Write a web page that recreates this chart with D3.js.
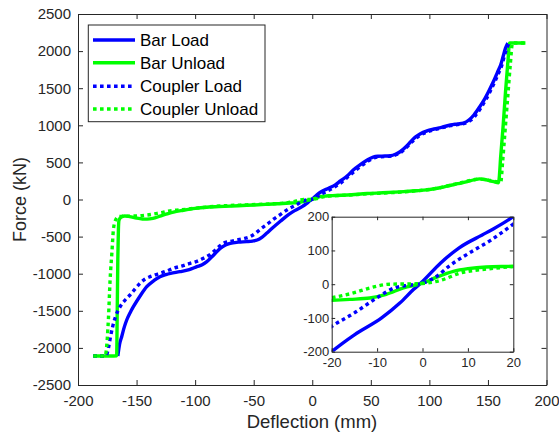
<!DOCTYPE html>
<html><head><meta charset="utf-8">
<script src="https://cdn.jsdelivr.net/npm/d3@7"></script>
<style>body{margin:0;background:#fff}svg{display:block;font-family:"Liberation Sans",Arial,Helvetica,sans-serif}</style>
</head><body><svg id="c" width="559" height="432"></svg>
<script>
const seriesNames = ["Bar Load", "Bar Unload", "Coupler Load", "Coupler Unload"];
const xTicks = [-200, -150, -100, -50, 0, 50, 100, 150, 200];
const yTicks = [-2500, -2000, -1500, -1000, -500, 0, 500, 1000, 1500, 2000, 2500];
const insetXTicks = [-20, -10, 0, 10, 20];
const insetYTicks = [-200, -100, 0, 100, 200];

const barLoadX = [-166,-164.5,-162.7,-160.5,-158.4,-155.5,-152.7,-147,-141.3,-135,-130,-125,-121,-113,-105,-98.5,-94,-90,-84,-78.6,-74,-70,-63,-56,-51,-47,-43,-39,-34,-27,-20,-15,-9,-5,-2,0,4,8,14,20,24,30,35,41,47,52,56,62,67,71,75,80,84,88,92,98,104,111,118,124,129,134,138,143,147,151,155,158,161,163,165,167];
const barLoadY = [-2110,-1950,-1849,-1720,-1624,-1525,-1445,-1300,-1175,-1090,-1040,-1012,-995,-973,-945,-905,-878,-838,-745,-658,-612,-590,-575,-568,-560,-546,-510,-456,-385,-290,-200,-150,-100,-56,-16,8,63,107,152,201,250,320,398,470,532,572,583,586,590,610,644,710,779,840,883,925,950,975,1004,1018,1030,1075,1139,1250,1350,1470,1600,1710,1820,1930,2040,2110];

const barUnloadX = [-187,-172,-167,-166.5,-166,-165.5,-165,-163,-160,-156,-150,-145,-141,-136,-130,-124,-118.5,-110,-100,-90,-75,-56,-40,-30,-20,-16,-11.6,-8,-4.2,0,3,6.8,10,14,20,30,47,60,75,88,98,108,115,122,128,133,138,143,147,151,155,159,161,163,165,167,168.5,182];
const barUnloadY = [-2110,-2110,-2105,-1500,-800,-400,-280,-235,-222,-230,-250,-262,-265,-255,-225,-195,-170,-145,-120,-104,-92,-78,-66,-58,-48,-45,-41,-30,-11,3,20,38,46,51,53,60,80,90,103,117,130,155,180,205,225,245,265,278,270,255,240,226,600,1000,1450,1850,2110,2110];

const couplerLoadX = [-187,-180,-176,-174,-172.6,-170.5,-168,-164,-160,-155.6,-151,-147,-143,-138.5,-134,-129.9,-124,-118.5,-111,-104.3,-98,-92.9,-88,-84.4,-80,-75.8,-70,-64.4,-58,-53,-48,-44.4,-39,-33,-27,-20,-15,-10,-6,-3,0,3,6,10,15,20,25,30,36,42,48,53,58,65,71,76,81,86,92,98,104,111,118,124,130,135,139,144,148,152,156,159,162,164,166,168];
const couplerLoadY = [-2110,-2110,-2105,-2000,-1880,-1720,-1580,-1445,-1360,-1287,-1200,-1129,-1075,-1040,-1015,-995,-962,-927,-895,-860,-830,-793,-750,-703,-640,-590,-565,-546,-525,-501,-450,-400,-340,-265,-200,-125,-85,-40,-10,-3,3,22,55,90,130,178,230,300,380,455,520,562,575,582,600,640,710,790,865,910,940,968,995,1010,1025,1065,1125,1235,1340,1460,1590,1700,1815,1930,2030,2110];

const couplerUnloadX = [-187,-177,-176,-174,-172.6,-171,-169.8,-168,-165.5,-160,-150,-141,-130,-120,-113,-100,-90,-75,-56,-40,-30,-20,-15,-11.6,-7.2,-2,0,3.9,8.3,14.2,20,30,47,60,75,88,98,108,115,122,128,133,138,142,146,150,154,158,161,162.5,164.5,167,169,171,182];
const couplerUnloadY = [-2110,-2110,-2050,-1600,-1085,-700,-411,-280,-232,-225,-222,-209,-180,-150,-141,-118,-102,-85,-72,-62,-55,-40,-25,-11,0,1,2,11,33,45,52,58,76,86,100,116,131,156,182,208,230,250,268,276,272,262,250,240,240,500,900,1400,1800,2110,2110];

const colors = {blue: "#0000ff", green: "#00ff00"};
const series = [
  {name: seriesNames[0], xs: barLoadX, ys: barLoadY, color: colors.blue, dotted: false},
  {name: seriesNames[1], xs: barUnloadX, ys: barUnloadY, color: colors.green, dotted: false},
  {name: seriesNames[2], xs: couplerLoadX, ys: couplerLoadY, color: colors.blue, dotted: true},
  {name: seriesNames[3], xs: couplerUnloadX, ys: couplerUnloadY, color: colors.green, dotted: true}
];
series.forEach(s => s.pts = s.xs.map((x, i) => [x, s.ys[i]]));

const svg = d3.select("#c");
const axisColor = "#262626";
const LW = 3.4, DASH = "3.6,3.4";

const x = d3.scaleLinear([-200, 200], [78, 546.5]);
const y = d3.scaleLinear([-2500, 2500], [385, 14]);
const xi = d3.scaleLinear([-20, 20], [331.7, 513.3]);
const yi = d3.scaleLinear([-200, 200], [351.7, 216.7]);

const defs = svg.append("defs");
defs.append("clipPath").attr("id", "clipMain").append("rect")
  .attr("x", 78).attr("y", 14).attr("width", 468.5).attr("height", 371);
defs.append("clipPath").attr("id", "clipInset").append("rect")
  .attr("x", 331.7).attr("y", 216.7).attr("width", 181.6).attr("height", 135);

function drawLines(g, sx, sy) {
  const line = d3.line().x(d => sx(d[0])).y(d => sy(d[1])).curve(d3.curveMonotoneX);
  series.forEach(s => {
    g.append("path").attr("d", line(s.pts)).attr("fill", "none")
      .attr("stroke", s.color).attr("stroke-width", LW)
      .attr("stroke-dasharray", s.dotted ? DASH : null)
      .attr("stroke-linejoin", "round");
  });
}

function styleAxis(g, size) {
  g.selectAll("path,line").attr("stroke", axisColor).attr("stroke-width", 1);
  g.selectAll("text").attr("fill", axisColor).attr("font-size", size)
    .attr("font-family", '"Liberation Sans",Arial,Helvetica,sans-serif');
  g.attr("font-family", null).attr("font-size", null);
}

const fmt = d => String(d);

drawLines(svg.append("g").attr("clip-path", "url(#clipMain)"), x, y);

const gB = svg.append("g").attr("transform", "translate(0,385)")
  .call(d3.axisBottom(x).tickValues(xTicks).tickSizeInner(-5).tickSizeOuter(0).tickPadding(10).tickFormat(fmt));
styleAxis(gB, 15);
const gT = svg.append("g").attr("transform", "translate(0,14)")
  .call(d3.axisTop(x).tickValues(xTicks).tickSizeInner(-5).tickSizeOuter(0).tickFormat(""));
styleAxis(gT, 15);
const gL = svg.append("g").attr("transform", "translate(78,0)")
  .call(d3.axisLeft(y).tickValues(yTicks).tickSizeInner(-5).tickSizeOuter(0).tickPadding(7).tickFormat(fmt));
styleAxis(gL, 15);
const gR = svg.append("g").attr("transform", "translate(546.5,0)")
  .call(d3.axisRight(y).tickValues(yTicks).tickSizeInner(-5).tickSizeOuter(0).tickFormat(""));
styleAxis(gR, 15);

svg.append("text").attr("x", 312).attr("y", 428).attr("text-anchor", "middle")
  .attr("font-size", 18.5).attr("fill", axisColor).text("Deflection (mm)");
svg.append("text").attr("transform", "translate(26,199.5) rotate(-90)").attr("text-anchor", "middle")
  .attr("font-size", 18).attr("fill", axisColor).text("Force (kN)");

const lg = svg.append("g");
lg.append("rect").attr("x", 88.3).attr("y", 25).attr("width", 176.7).attr("height", 96.7)
  .attr("fill", "#fff").attr("stroke", axisColor).attr("stroke-width", 1);
const legendY = [40, 62.7, 86.2, 109];
series.forEach((s, i) => {
  lg.append("line").attr("x1", 93).attr("x2", 135).attr("y1", legendY[i]).attr("y2", legendY[i])
    .attr("stroke", s.color).attr("stroke-width", LW).attr("stroke-dasharray", s.dotted ? DASH : null);
  lg.append("text").attr("x", 140).attr("y", legendY[i]).attr("dy", "0.36em")
    .attr("font-size", 17).attr("fill", "#000").text(s.name);
});

svg.append("rect").attr("x", 331.7).attr("y", 216.7).attr("width", 181.6).attr("height", 135).attr("fill", "#fff");
drawLines(svg.append("g").attr("clip-path", "url(#clipInset)"), xi, yi);
const iB = svg.append("g").attr("transform", "translate(0,351.7)")
  .call(d3.axisBottom(xi).tickValues(insetXTicks).tickSizeInner(-3.5).tickSizeOuter(0).tickPadding(6.5).tickFormat(fmt));
styleAxis(iB, 13);
const iT = svg.append("g").attr("transform", "translate(0,216.7)")
  .call(d3.axisTop(xi).tickValues(insetXTicks).tickSizeInner(-3.5).tickSizeOuter(0).tickFormat(""));
styleAxis(iT, 13);
const iL = svg.append("g").attr("transform", "translate(331.7,0)")
  .call(d3.axisLeft(yi).tickValues(insetYTicks).tickSizeInner(-3.5).tickSizeOuter(0).tickPadding(2.5).tickFormat(fmt));
styleAxis(iL, 13);
const iR = svg.append("g").attr("transform", "translate(513.3,0)")
  .call(d3.axisRight(yi).tickValues(insetYTicks).tickSizeInner(-3.5).tickSizeOuter(0).tickFormat(""));
styleAxis(iR, 13);
</script></body></html>
